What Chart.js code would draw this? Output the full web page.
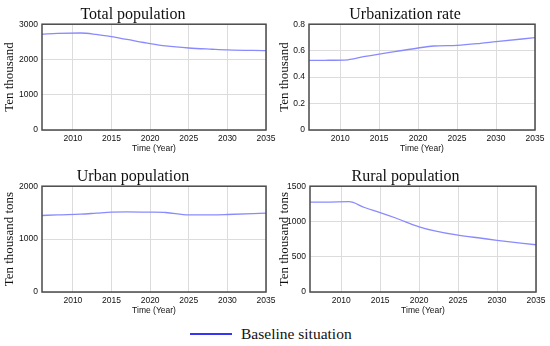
<!DOCTYPE html>
<html>
<head>
<meta charset="utf-8">
<script src="https://cdn.jsdelivr.net/npm/chart.js@4/dist/chart.umd.min.js"></script>
<style>
  html, body { margin: 0; padding: 0; background: #fff; }
  body { width: 550px; height: 346px; position: relative; overflow: hidden; }
  .box { position: absolute; }
  #legend { position: absolute; left: 190px; top: 324px; height: 20px; display: flex; align-items: center;
            font-family: "Liberation Serif", "Times New Roman", serif; font-size: 15.5px; color: #111; }
  #legend .sw { width: 42px; height: 2.5px; background: #3535f5; margin-right: 9px; }
</style>
</head>
<body>
<div class="box" style="left:0px;top:0px;width:296px;height:160px"><canvas id="c1"></canvas></div>
<div class="box" style="left:275px;top:0px;width:288px;height:160px"><canvas id="c2"></canvas></div>
<div class="box" style="left:0px;top:162px;width:297px;height:160px"><canvas id="c3"></canvas></div>
<div class="box" style="left:275px;top:162px;width:284px;height:160px"><canvas id="c4"></canvas></div>
<div id="legend"><div class="sw"></div><span>Baseline situation</span></div>
<script>
// ---- data ----
const years = [2006, 2008, 2011, 2013, 2015, 2017, 2020, 2022, 2025, 2028, 2030, 2035];
const totalPopulation = [2720, 2740, 2750, 2710, 2645, 2567, 2450, 2385, 2325, 2290, 2270, 2250];
const urbanizationRate = [0.526, 0.527, 0.531, 0.554, 0.574, 0.592, 0.620, 0.635, 0.640, 0.655, 0.668, 0.698];
const urbanPopulation = [1446, 1459, 1471, 1490, 1510, 1516, 1510, 1503, 1459, 1459, 1465, 1490];
const ruralPopulation = [1275, 1275, 1280, 1198, 1126, 1049, 925, 867, 805, 762, 733, 670];
const xTicks = [2010, 2015, 2020, 2025, 2030, 2035];
const seriesName = "Baseline situation";

const frame = {
  id: 'frame',
  afterDraw(chart) {
    const a = chart.chartArea, ctx = chart.ctx;
    ctx.save();
    ctx.strokeStyle = '#4a4a4a';
    ctx.lineWidth = 1.5;
    ctx.strokeRect(a.left, a.top, a.right - a.left, a.bottom - a.top);
    ctx.restore();
  }
};

function makeChart(id, title, yTitle, values, yMax, yStep, yAxisW, padRight, decimals) {
  new Chart(document.getElementById(id), {
    type: 'line',
    data: {
      datasets: [{
        label: seriesName,
        data: years.map((y, i) => ({ x: y, y: values[i] })),
        borderColor: '#8a8aff',
        borderWidth: 1.3,
        pointRadius: 0,
        cubicInterpolationMode: 'monotone',
        fill: false
      }]
    },
    options: {
      responsive: true,
      maintainAspectRatio: false,
      animation: false,
      layout: { padding: { left: 0, right: padRight, top: 0, bottom: 0 } },
      plugins: {
        legend: { display: false },
        tooltip: { enabled: false },
        title: {
          display: true, text: title, color: '#111',
          font: { family: '"Liberation Serif", "Times New Roman", serif', size: 16, weight: 'normal' },
          padding: { top: 5, bottom: 0 }
        }
      },
      scales: {
        x: {
          type: 'linear', min: 2006, max: 2035,
          afterBuildTicks: s => { s.ticks = xTicks.map(v => ({ value: v })); },
          afterFit: s => { s.height = 30; },
          grid: { color: '#dcdcdc', drawTicks: false },
          border: { display: false },
          ticks: { color: '#111', padding: 4, maxRotation: 0, autoSkip: false,
                   font: { family: '"Liberation Sans", Arial, sans-serif', size: 8.5 },
                   callback: v => String(v) },
          title: { display: true, text: 'Time (Year)', color: '#111', padding: { top: 0, bottom: 6 },
                   font: { family: '"Liberation Sans", Arial, sans-serif', size: 8.5 } }
        },
        y: {
          min: 0, max: yMax,
          afterBuildTicks: s => {
            const t = [];
            for (let v = 0; v <= yMax + 1e-9; v += yStep) t.push({ value: +v.toFixed(3) });
            s.ticks = t;
          },
          afterFit: s => { s.width = yAxisW; },
          grid: { color: '#dcdcdc', drawTicks: false },
          border: { display: false },
          ticks: { color: '#111', padding: 4,
                   font: { family: '"Liberation Sans", Arial, sans-serif', size: 8.5 },
                   callback: v => decimals ? (v === 0 ? '0' : v.toFixed(decimals)) : String(v) },
          title: { display: true, text: yTitle, color: '#111', padding: { top: 2, bottom: 0 },
                   font: { family: '"Liberation Serif", "Times New Roman", serif', size: 13 } }
        }
      }
    },
    plugins: [frame]
  });
}

makeChart('c1', 'Total population', 'Ten thousand', totalPopulation, 3000, 1000, 42, 30, 0);
makeChart('c2', 'Urbanization rate', 'Ten thousand', urbanizationRate, 0.8, 0.2, 34, 28, 1);
makeChart('c3', 'Urban population', 'Ten thousand tons', urbanPopulation, 2000, 1000, 42, 31, 0);
makeChart('c4', 'Rural population', 'Ten thousand tons', ruralPopulation, 1500, 500, 35, 23, 0);
</script>
</body>
</html>
